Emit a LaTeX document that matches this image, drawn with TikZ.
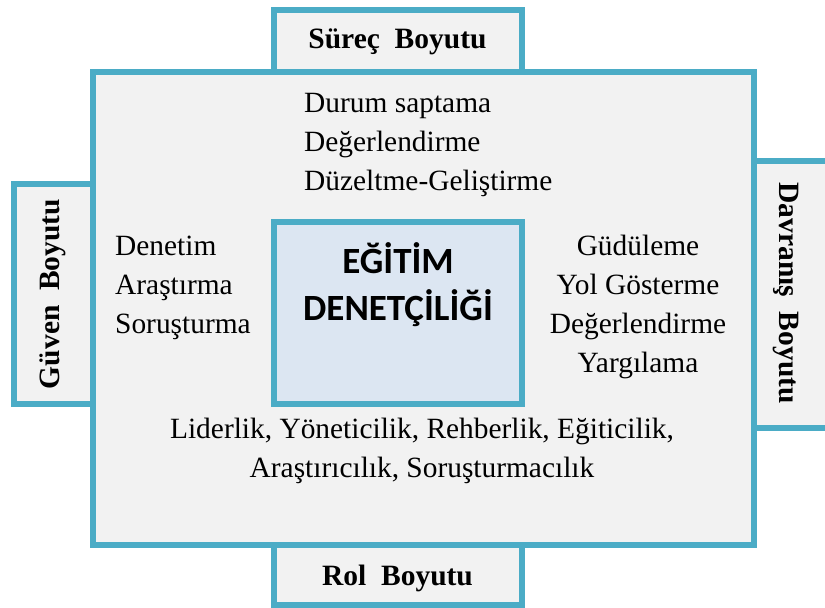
\documentclass[tikz,border=0pt]{standalone}
\usepackage{fontspec}
\setmainfont{Liberation Serif}
\newfontfamily\coreFont{Carlito}
\definecolor{tealLine}{HTML}{4BACC6}
\definecolor{paleGray}{HTML}{F2F2F2}
\definecolor{paleBlue}{HTML}{DCE6F2}
\newcommand{\tabBox}[6]{%%
  \draw[tabStyle] (#1) rectangle (#2);
  \node[tabLabel,rotate=#5] (#3) at (#4) {#6};
}

\begin{document}
\begin{tikzpicture}[%%
  x=1pt,y=-1pt,%%
  tabStyle/.style={draw=tealLine,fill=paleGray,line width=6pt},%%
  frameStyle/.style={draw=tealLine,fill=paleGray,line width=6pt},%%
  coreStyle/.style={draw=tealLine,fill=paleBlue,line width=6pt},%%
  tabLabel/.style={inner sep=0pt,font=\fontsize{29.5}{39}\selectfont\bfseries},%%
  itemText/.style={inner sep=0pt,font=\fontsize{29.4}{39}\selectfont},%%
  coreText/.style={inner sep=0pt,align=center,font=\fontsize{37}{47}\selectfont\coreFont\bfseries}
]
%%
%%
\useasboundingbox (0,0) rectangle (825,608);
\clip (0,0) rectangle (825,608);
\coordinate (frameNW) at (92.5,72);
\coordinate (frameSE) at (754,545);
\coordinate (coreNW) at (273.5,222);
\coordinate (coreSE) at (522,404);
%%
%% The four tabs round the frame.
\tabBox{273.5,9.5}{521.5,72}{surecTab}{397.5,42}{0}{Süreç~~Boyutu}
\tabBox{273.5,545}{521.5,605}{rolTab}{397.5,578}{0}{Rol~~Boyutu}
\tabBox{13.5,183.5}{92.5,404}{guvenTab}{53,294}{90}{Güven~~Boyutu}
\tabBox{754,161}{845,428}{davranisTab}{786,293}{-90}{Davranış~~Boyutu}
%%
%% The frame and the core box.
\draw[frameStyle] (frameNW) rectangle (frameSE);
\draw[coreStyle] (coreNW) rectangle (coreSE);
\node[coreText] (core) at (398,285) {EĞİTİM\\DENETÇİLİĞİ};
%%
%% The items of each dimension.
\node[itemText,anchor=west,align=left] (surecItems) at (304,145)
  {Durum saptama\\Değerlendirme\\Düzeltme-Geliştirme};
\node[itemText,anchor=west,align=left] (guvenItems) at (115,288)
  {Denetim\\Araştırma\\Soruşturma};
\node[itemText,align=center] (davranisItems) at (638,306.5)
  {Güdüleme\\Yol Gösterme\\Değerlendirme\\Yargılama};
\node[itemText,align=center] (rolItems) at (422,451)
  {Liderlik, Yöneticilik, Rehberlik, Eğiticilik,\\Araştırıcılık, Soruşturmacılık};
\end{tikzpicture}
\end{document}
